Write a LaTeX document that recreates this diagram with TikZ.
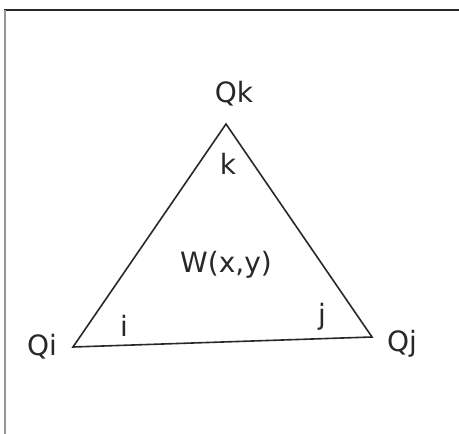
\documentclass[tikz,border=0pt]{standalone}
\usepackage{fontspec}
\setmainfont{DejaVu Sans}
\usetikzlibrary{positioning}
\definecolor{edgegray}{RGB}{40,40,40}
\definecolor{framegray}{RGB}{150,150,150}
\tikzset{lbl/.style={font=\fontsize{28}{32}\selectfont,text=edgegray,inner sep=0pt}}

\begin{document}
\begin{tikzpicture}[x=1pt,y=-1pt]
        \useasboundingbox (0,0) rectangle (459,434);
        \draw[edgegray,line width=2pt] (4,10) -- (459,10);
        \draw[framegray,line width=1.5pt] (5,10) -- (5,434);
        \coordinate (vk) at (226,124);
        \coordinate (vi) at (73,347);
        \coordinate (vj) at (372,337);
        \draw[edgegray,line width=1.6pt,line join=miter] (vk) -- (vi) -- (vj) -- cycle;
        \node[lbl] (qk) at (234,94) {Qk};
        \node[lbl] (qi) at (42,347) {Qi};
        \node[lbl] (qj) at (402,344) {Qj};
        \node[lbl] (ak) at (228,164) {k};
        \node[lbl] (ai) at (124,326) {i};
        \node[lbl] (aj) at (322,317) {j};
        \node[lbl] (w) at (226,265) {W(x,y)};
      \end{tikzpicture}
\end{document}
